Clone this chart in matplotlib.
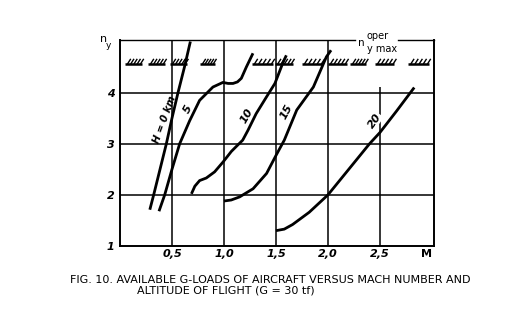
import matplotlib
matplotlib.use("Agg")
import matplotlib.pyplot as plt
import numpy as np

# curves: Mach number vs available g-load, per altitude
h0_m = [0.287, 0.324, 0.385, 0.446, 0.50, 0.558, 0.62, 0.677]
h0_n = [1.71, 2.0, 2.5, 3.0, 3.5, 4.0, 4.5, 5.0]

h5_m = [0.375, 0.43, 0.50, 0.574, 0.67, 0.766, 0.894, 0.99, 1.04, 1.087, 1.13, 1.167, 1.215, 1.279]
h5_n = [1.68, 2.0, 2.5, 3.0, 3.45, 3.85, 4.11, 4.2, 4.18, 4.18, 4.21, 4.28, 4.5, 4.77]

h10_m = [0.687, 0.72, 0.766, 0.83, 0.91, 0.99, 1.071, 1.13, 1.18, 1.23, 1.31, 1.41, 1.49, 1.57, 1.60]
h10_n = [2.02, 2.17, 2.28, 2.33, 2.45, 2.64, 2.85, 2.97, 3.07, 3.26, 3.59, 3.92, 4.18, 4.6, 4.73]

h15_m = [1.0, 1.07, 1.15, 1.28, 1.41, 1.50, 1.58, 1.70, 1.86, 1.985, 2.03]
h15_n = [1.88, 1.9, 1.96, 2.12, 2.42, 2.77, 3.07, 3.66, 4.11, 4.70, 4.83]

h20_m = [1.50, 1.58, 1.66, 1.82, 2.0, 2.18, 2.40, 2.50, 2.66, 2.83]
h20_n = [1.30, 1.33, 1.42, 1.66, 2.0, 2.45, 3.0, 3.22, 3.64, 4.1]

curve_labels = ["H = 0 km", "5", "10", "15", "20"]
label_pos = [(0.43, 3.47, 70), (0.655, 3.68, 62), (1.215, 3.55, 60), (1.60, 3.62, 62), (2.45, 3.45, 55)]

# operational limit n_y max (hatched segments)
n_oper = 4.57
hatch_segments = [(0.045, 0.21), (0.267, 0.43), (0.478, 0.64), (0.766, 0.91),
                  (1.266, 1.47), (1.49, 1.66), (1.747, 1.95), (1.997, 2.18),
                  (2.21, 2.37), (2.45, 2.64), (2.77, 2.97)]

x_ticks = [0.5, 1.0, 1.5, 2.0, 2.5]
x_tick_labels = ["0,5", "1,0", "1,5", "2,0", "2,5"]
y_ticks = [1, 2, 3, 4]

fig = plt.figure(figsize=(5.11, 3.27), dpi=100)
ax = fig.add_axes([0.2348, 0.2477, 0.6145, 0.63])
ax.set_xlim(0, 3.02)
ax.set_ylim(1, 5.03)

# grid
for xv in [0.5, 1.0, 1.5, 2.0]:
    ax.axvline(xv, color="black", lw=1.1, zorder=1)
ax.vlines(2.5, 1, 4.12, color="black", lw=1.1, zorder=1)
for yv in [2, 3, 4]:
    ax.axhline(yv, color="black", lw=1.1, zorder=1)

# curves
for m, n in [(h0_m, h0_n), (h5_m, h5_n), (h10_m, h10_n), (h15_m, h15_n), (h20_m, h20_n)]:
    ax.plot(m, n, color="black", lw=2.0, solid_capstyle="butt", zorder=3)

for lab, (xm, yn, rot) in zip(curve_labels, label_pos):
    ax.text(xm, yn, lab, rotation=rot, ha="center", va="center",
            fontsize=7 if lab.startswith("H") else 8,
            style="italic", fontweight="bold", zorder=4,
            bbox=dict(facecolor="white", edgecolor="none", pad=0.3) if lab == "20" else None)

# hatched limit line
for a, b in hatch_segments:
    ax.plot([a, b], [n_oper, n_oper], color="black", lw=1.8, solid_capstyle="butt", zorder=3)
    for t in np.linspace(a + 0.03, b - 0.01, 5):
        ax.plot([t, t + 0.025], [n_oper, n_oper + 0.08], color="black", lw=1.0, zorder=3)

# spines: top border drawn with a gap for the label
ax.spines["top"].set_visible(False)
for s in ["left", "bottom", "right"]:
    ax.spines[s].set_linewidth(1.4)
ax.plot([0, 2.26], [5.03, 5.03], color="black", lw=1.0, clip_on=False)
ax.plot([2.67, 3.02], [5.03, 5.03], color="black", lw=1.0, clip_on=False)
ax.text(2.32, 4.98, "n", fontsize=7.5, ha="center", va="center", clip_on=False)
ax.text(2.37, 5.1, "oper", fontsize=7, ha="left", va="center", clip_on=False)
ax.text(2.375, 4.86, "y max", fontsize=7, ha="left", va="center", clip_on=False)

ax.set_xticks(x_ticks + [2.95])
ax.set_xticklabels(x_tick_labels + ["M"], style="italic", fontweight="bold", fontsize=8)
ax.get_xticklabels()[-1].set_style("normal")
ax.set_yticks(y_ticks)
ax.set_yticklabels([str(v) for v in y_ticks], style="italic", fontweight="bold", fontsize=8)
ax.tick_params(axis="x", length=0, pad=2)
ax.tick_params(axis="y", length=0, pad=4)

fig.text(0.203, 0.882, "n", fontsize=8, ha="center", va="center")
fig.text(0.213, 0.862, "y", fontsize=6.5, ha="center", va="center")

fig.text(0.137, 0.143, "FIG. 10. AVAILABLE G-LOADS OF AIRCRAFT VERSUS MACH NUMBER AND",
         fontsize=8.0, ha="left", va="center", family="Liberation Sans Narrow")
fig.text(0.268, 0.113, "ALTITUDE OF FLIGHT (G = 30 tf)",
         fontsize=8.0, ha="left", va="center", family="Liberation Sans Narrow")

fig.savefig("out.png", dpi=100)
